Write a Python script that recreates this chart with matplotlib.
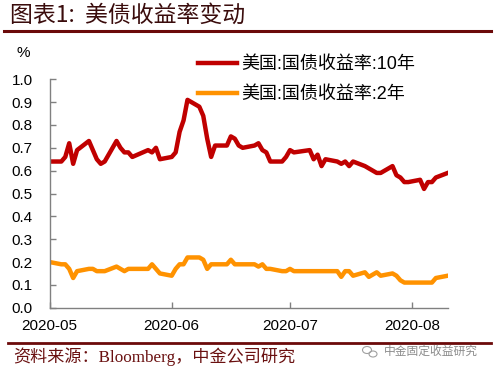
import matplotlib
matplotlib.use("Agg")
import matplotlib.pyplot as plt
import matplotlib.dates as mdates
import pandas as pd
from matplotlib.lines import Line2D
from matplotlib.patches import Ellipse

plt.rcParams['font.family'] = ['Liberation Sans', 'Noto Sans CJK SC', 'DejaVu Sans']

dates = [
    "2020-05-01", "2020-05-04", "2020-05-05", "2020-05-06", "2020-05-07", "2020-05-08",
    "2020-05-11", "2020-05-12", "2020-05-13", "2020-05-14", "2020-05-15",
    "2020-05-18", "2020-05-19", "2020-05-20", "2020-05-21", "2020-05-22",
    "2020-05-26", "2020-05-27", "2020-05-28", "2020-05-29",
    "2020-06-01", "2020-06-02", "2020-06-03", "2020-06-04", "2020-06-05",
    "2020-06-08", "2020-06-09", "2020-06-10", "2020-06-11", "2020-06-12",
    "2020-06-15", "2020-06-16", "2020-06-17", "2020-06-18", "2020-06-19",
    "2020-06-22", "2020-06-23", "2020-06-24", "2020-06-25", "2020-06-26",
    "2020-06-29", "2020-06-30",
    "2020-07-01", "2020-07-02", "2020-07-06", "2020-07-07", "2020-07-08",
    "2020-07-09", "2020-07-10", "2020-07-13", "2020-07-14", "2020-07-15",
    "2020-07-16", "2020-07-17", "2020-07-20", "2020-07-21", "2020-07-22",
    "2020-07-23", "2020-07-24", "2020-07-27", "2020-07-28", "2020-07-29",
    "2020-07-30", "2020-07-31",
    "2020-08-03", "2020-08-04", "2020-08-05", "2020-08-06", "2020-08-07", "2020-08-10",
]

y10 = [
    0.64, 0.64, 0.66, 0.72, 0.63, 0.69,
    0.73, 0.69, 0.65, 0.63, 0.64,
    0.73, 0.70, 0.68, 0.68, 0.66,
    0.69, 0.68, 0.70, 0.65,
    0.66, 0.68, 0.77, 0.82, 0.91,
    0.88, 0.84, 0.74, 0.66, 0.71,
    0.71, 0.75, 0.74, 0.71, 0.70,
    0.71, 0.72, 0.69, 0.68, 0.64,
    0.64, 0.66,
    0.69, 0.68, 0.69, 0.65, 0.67,
    0.62, 0.65, 0.64, 0.63, 0.64,
    0.62, 0.64, 0.62, 0.61, 0.60,
    0.59, 0.59, 0.62, 0.58, 0.57,
    0.55, 0.55,
    0.56, 0.52, 0.55, 0.55, 0.57, 0.59,
]

y2 = [
    0.20, 0.19, 0.19, 0.17, 0.13, 0.16,
    0.17, 0.17, 0.16, 0.16, 0.16,
    0.18, 0.17, 0.16, 0.17, 0.17,
    0.17, 0.19, 0.17, 0.15,
    0.14, 0.17, 0.19, 0.19, 0.22,
    0.22, 0.21, 0.17, 0.19, 0.19,
    0.19, 0.21, 0.19, 0.19, 0.19,
    0.19, 0.18, 0.19, 0.17, 0.17,
    0.16, 0.16,
    0.17, 0.16, 0.16, 0.16, 0.16,
    0.16, 0.16, 0.16, 0.135, 0.16,
    0.16, 0.14, 0.155, 0.135, 0.145,
    0.155, 0.14, 0.15, 0.14, 0.12,
    0.11, 0.11,
    0.11, 0.11, 0.11, 0.11, 0.13, 0.14,
]

series_labels = ["美国:国债收益率:10年", "美国:国债收益率:2年"]
series_colors = ["#C00000", "#FF9200"]
yticks = [0.0, 0.1, 0.2, 0.3, 0.4, 0.5, 0.6, 0.7, 0.8, 0.9, 1.0]
xtick_dates = ["2020-05-01", "2020-06-01", "2020-07-01", "2020-08-01"]

x = pd.to_datetime(dates)

W, H = 496, 372
fig = plt.figure(figsize=(W / 100, H / 100), dpi=100)
ax = fig.add_axes([49.5 / W, 1 - 307.7 / H, (447.7 - 49.5) / W, (307.7 - 79.3) / H])

ax.plot(x, y10, color=series_colors[0], lw=3.2, solid_joinstyle='round', label=series_labels[0])
ax.plot(x, y2, color=series_colors[1], lw=3.2, solid_joinstyle='round', label=series_labels[1])

ax.set_ylim(0, 1.0)
ax.set_xlim(pd.Timestamp("2020-05-01"), pd.Timestamp("2020-08-10"))
ax.set_yticks(yticks)
ax.set_yticklabels([f"{v:.1f}" for v in yticks])
ax.set_xticks(pd.to_datetime(xtick_dates))
ax.xaxis.set_major_formatter(mdates.DateFormatter("%Y-%m"))

for s in ["top", "right"]:
    ax.spines[s].set_visible(False)
for s in ["left", "bottom"]:
    ax.spines[s].set_color("#808080")
    ax.spines[s].set_linewidth(1.0)
ax.tick_params(axis='y', direction='in', length=4, width=1, color="#808080",
               labelsize=11, pad=12, labelcolor="#000000")
ax.tick_params(axis='x', direction='in', length=4, width=1, color="#808080",
               labelsize=11, pad=8, labelcolor="#000000")
ax.patch.set_visible(False)

leg = ax.legend(loc='upper left', bbox_to_anchor=(197.7 / W, 1 - 56 / H),
                bbox_transform=fig.transFigure, frameon=False, fontsize=13,
                handlelength=2.15, handletextpad=0.25, labelspacing=0.72,
                borderpad=0, borderaxespad=0)

fig.text(23 / W, 1 - 53 / H, "%", ha='center', va='center', fontsize=11, color="#000000")

# Title and rules
fig.text(10 / W, 1 - 15 / H, "图表1:  美债收益率变动", ha='left', va='center',
         fontsize=16.5, color="#3a0c0c", family=['Noto Sans CJK SC', 'DejaVu Sans'])
fig.add_artist(Line2D([4 / W, 491 / W], [1 - 30.5 / H, 1 - 30.5 / H],
                      color="#6B0A0A", lw=2.2, transform=fig.transFigure))
fig.add_artist(Line2D([8 / W, 491 / W], [1 - 343.3 / H, 1 - 343.3 / H],
                      color="#6B0A0A", lw=2.0, transform=fig.transFigure))

fig.text(13 / W, 1 - 357 / H, "资料来源：Bloomberg，中金公司研究", ha='left', va='center',
         fontsize=12.3, color="#6a1010",
         family=['Liberation Serif', 'Noto Sans CJK SC', 'DejaVu Sans'])

# watermark
fig.add_artist(Ellipse((367 / W, 1 - 350 / H), 9 / W, 7 / H, transform=fig.transFigure,
                       fill=False, ec="#a0a0a0", lw=0.8))
fig.add_artist(Ellipse((373 / W, 1 - 354 / H), 8 / W, 6 / H, transform=fig.transFigure,
                       fill=False, ec="#a0a0a0", lw=0.8))
fig.text(384 / W, 1 - 351 / H, "中金固定收益研究", ha='left', va='center',
         fontsize=8.5, color="#8c8c8c", family=['Noto Sans CJK SC', 'DejaVu Sans'])

fig.savefig("out.png", dpi=100)
